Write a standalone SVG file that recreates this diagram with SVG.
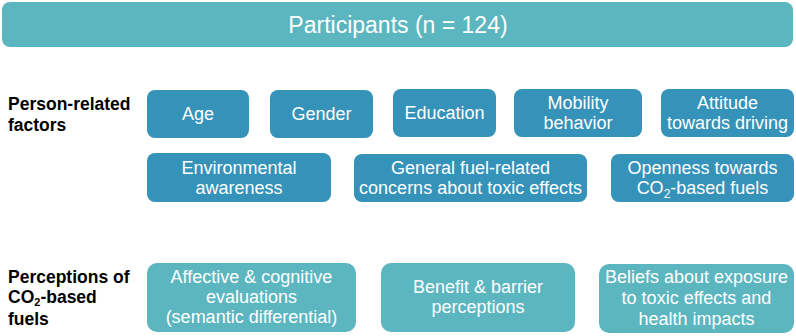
<svg xmlns="http://www.w3.org/2000/svg" width="796" height="336" viewBox="0 0 796 336">
<style>
.dark{fill:#3592B9;}
.light{fill:#5BB6C0;}
.t{font-family:"Liberation Sans",Arial,sans-serif;font-size:18px;fill:#fff;text-anchor:middle;}
.h{font-family:"Liberation Sans",Arial,sans-serif;font-size:17.5px;font-weight:bold;fill:#000;}
</style>
<rect width="796" height="336" fill="#fff"/>
<g id="participants">
<rect class="light" x="2" y="2" width="791" height="45" rx="8"/>
<text class="t" x="398" y="33" style="font-size:23px">Participants (n = 124)</text>
</g>
<g id="label-person">
<text class="h" x="8" y="110">Person-related</text>
<text class="h" x="8" y="131">factors</text>
</g>
<g id="label-perceptions">
<text class="h" x="8" y="283">Perceptions of</text>
<text class="h" x="8" y="303">CO<tspan font-size="11" dy="3">2</tspan><tspan dy="-3">-based</tspan></text>
<text class="h" x="8" y="325">fuels</text>
</g>
<g id="age">
<rect class="dark" x="147" y="90" width="102" height="48" rx="8"/>
<text class="t" x="198" y="120">Age</text>
</g>
<g id="gender">
<rect class="dark" x="270" y="90" width="103" height="48" rx="8"/>
<text class="t" x="321.5" y="120">Gender</text>
</g>
<g id="education">
<rect class="dark" x="393" y="89" width="103" height="48" rx="8"/>
<text class="t" x="444.5" y="119">Education</text>
</g>
<g id="mobility">
<rect class="dark" x="514" y="89" width="128" height="48" rx="8"/>
<text class="t" x="578" y="109">Mobility</text>
<text class="t" x="578" y="129">behavior</text>
</g>
<g id="attitude">
<rect class="dark" x="661" y="89" width="133" height="48" rx="8"/>
<text class="t" x="727.5" y="109">Attitude</text>
<text class="t" x="727.5" y="129">towards driving</text>
</g>
<g id="environmental">
<rect class="dark" x="147" y="153" width="184" height="49" rx="8"/>
<text class="t" x="239" y="174">Environmental</text>
<text class="t" x="239" y="194">awareness</text>
</g>
<g id="general">
<rect class="dark" x="354" y="154" width="233" height="48" rx="8"/>
<text class="t" x="470.5" y="174">General fuel-related</text>
<text class="t" x="470.5" y="194">concerns about toxic effects</text>
</g>
<g id="openness">
<rect class="dark" x="611" y="154" width="183" height="48" rx="8"/>
<text class="t" x="702.5" y="174">Openness towards</text>
<text class="t" x="702.5" y="194">CO<tspan font-size="12" dy="4">2</tspan><tspan dy="-4">-based fuels</tspan></text>
</g>
<g id="affective">
<rect class="light" x="147" y="263" width="209" height="69" rx="10"/>
<text class="t" x="251.5" y="283">Affective &amp; cognitive</text>
<text class="t" x="251.5" y="303">evaluations</text>
<text class="t" x="251.5" y="323">(semantic differential)</text>
</g>
<g id="benefit">
<rect class="light" x="381" y="263" width="194" height="69" rx="10"/>
<text class="t" x="478" y="293">Benefit &amp; barrier</text>
<text class="t" x="478" y="313">perceptions</text>
</g>
<g id="beliefs">
<rect class="light" x="599" y="264" width="195" height="69" rx="10"/>
<text class="t" x="696.5" y="283">Beliefs about exposure</text>
<text class="t" x="696.5" y="304">to toxic effects and</text>
<text class="t" x="696.5" y="325">health impacts</text>
</g>
<g id="connectors"></g>
</svg>
